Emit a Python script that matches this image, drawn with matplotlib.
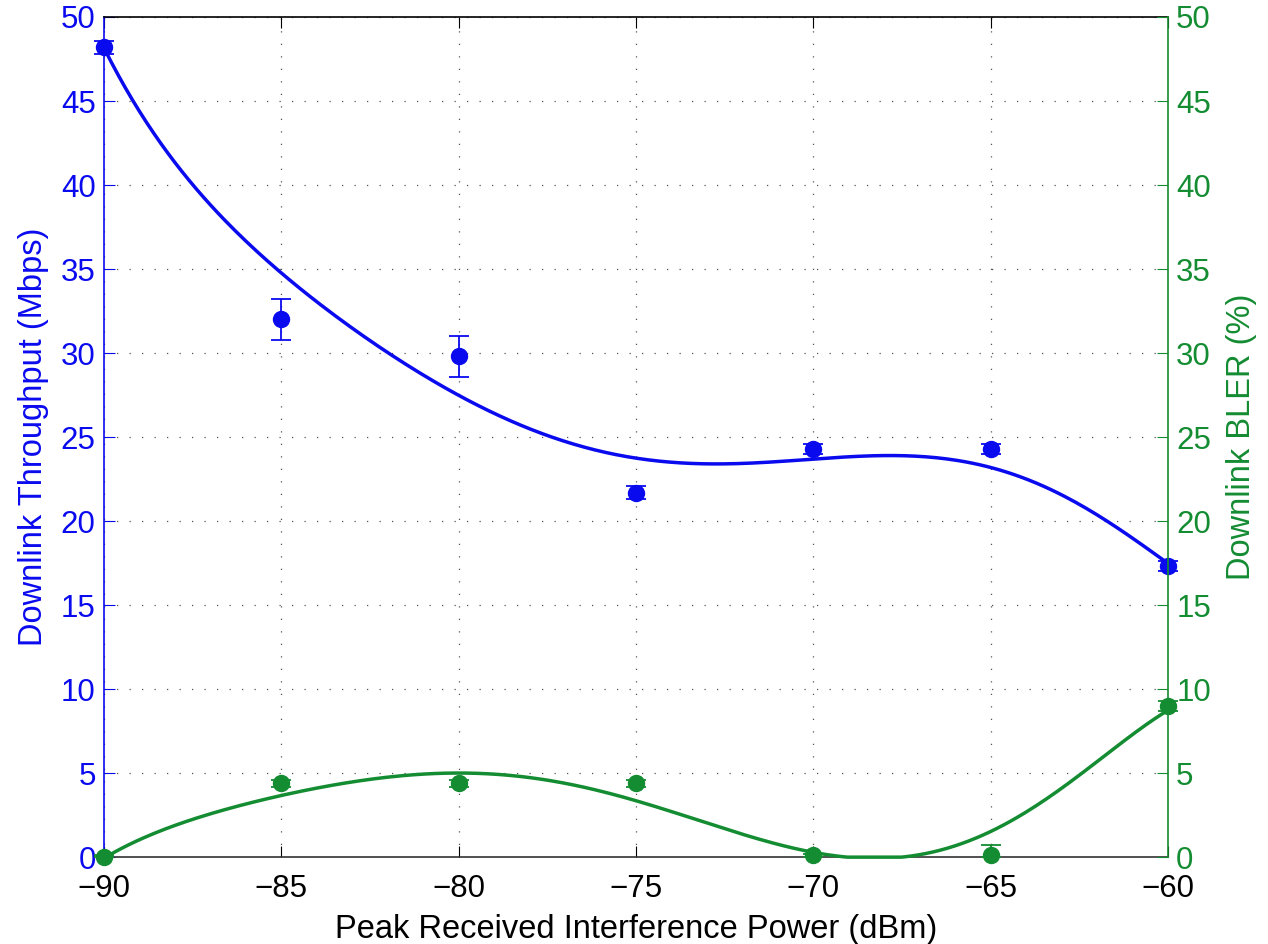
import numpy as np
import matplotlib
matplotlib.use('Agg')
import matplotlib.pyplot as plt

plt.rcParams['font.family'] = ['Liberation Sans', 'DejaVu Sans']

# measured points
power_dbm = [-90, -85, -80, -75, -70, -65, -60]
throughput = [48.2, 32.0, 29.8, 21.7, 24.3, 24.3, 17.3]
throughput_err = [0.4, 1.2, 1.2, 0.4, 0.3, 0.3, 0.3]
bler = [0.0, 4.4, 4.4, 4.4, 0.1, 0.1, 9.0]
bler_err_lo = [0.0, 0.2, 0.2, 0.2, 0.1, 0.1, 0.3]
bler_err_hi = [0.1, 0.2, 0.2, 0.2, 0.1, 0.6, 0.3]

# trend curves
trend_dbm = [-90, -87.5, -85, -82.5, -80, -77.5, -75, -72.5, -70, -67.5, -65, -62.5, -60]
throughput_trend = [48.1, 40.3, 34.4, 30.8, 27.6, 25.3, 23.5, 23.3, 23.8, 24.0, 23.1, 21.0, 17.5]
bler_trend = [0.0, 2.0, 3.95, 4.7, 4.8, 4.45, 3.55, 1.75, 0.25, 0.0, 1.4, 5.0, 8.7]

x_ticks = [-90, -85, -80, -75, -70, -65, -60]
y_ticks = [0, 5, 10, 15, 20, 25, 30, 35, 40, 45, 50]

BLUE = '#0a0aef'
GREEN = '#148c32'

fig = plt.figure(figsize=(12.68, 9.44), dpi=100)
ax = fig.add_axes([0.082, 0.092, 0.839, 0.890])
ax2 = ax.twinx()

xs = np.linspace(min(trend_dbm), max(trend_dbm), 300)

# throughput (left axis)
c1 = np.polyfit(trend_dbm, throughput_trend, 6)
ax.plot(xs, np.polyval(c1, xs), color=BLUE, lw=2.5, clip_on=False, zorder=3)
ax.errorbar(power_dbm, throughput, yerr=throughput_err, fmt='o', color=BLUE,
            ms=11.5, capsize=7.5, elinewidth=1.3, capthick=1.3, clip_on=False, zorder=4)

# BLER (right axis)
c2 = np.polyfit(trend_dbm, bler_trend, 6)
ax2.plot(xs, np.clip(np.polyval(c2, xs), 0, None), color=GREEN, lw=2.5, clip_on=False, zorder=3)
ax2.errorbar(power_dbm, bler, yerr=[bler_err_lo, bler_err_hi], fmt='o', color=GREEN,
             ms=11.5, capsize=7.5, elinewidth=1.3, capthick=1.3, clip_on=False, zorder=4)

ax.set_xlim(-90, -60)
ax.set_ylim(0, 50)
ax2.set_ylim(0, 50)
ax.set_xticks(x_ticks)
ax.set_yticks(y_ticks)
ax2.set_yticks(y_ticks)

ax.grid(True, color='#555555', linestyle=(0, (1, 9)), linewidth=0.9)

ax.tick_params(axis='x', direction='in', length=8, top=True, labelsize=22.5, colors='black', pad=12)
ax.tick_params(axis='y', direction='in', length=8, labelsize=22.5, colors=BLUE, pad=6)
ax2.tick_params(axis='y', direction='in', length=8, labelsize=22.5, colors=GREEN, pad=6)

for sp in ax2.spines.values():
    sp.set_visible(False)
ax2.spines['right'].set_visible(True)
ax2.spines['right'].set_color(GREEN)
ax.spines['left'].set_color(BLUE)
ax.spines['right'].set_visible(False)
ax.spines['top'].set_color('black')
ax.spines['bottom'].set_color('#333333')
for sp in ax.spines.values():
    sp.set_linewidth(1.2)
ax2.spines['right'].set_linewidth(1.2)

ax.set_xlabel('Peak Received Interference Power (dBm)', fontsize=23.5, labelpad=7)
ax.set_ylabel('Downlink Throughput (Mbps)', fontsize=23.5, color=BLUE, labelpad=8.5)
ax2.set_ylabel('Downlink BLER (%)', fontsize=23.5, color=GREEN, rotation=90, labelpad=11)

fig.savefig('out.png', dpi=100)
